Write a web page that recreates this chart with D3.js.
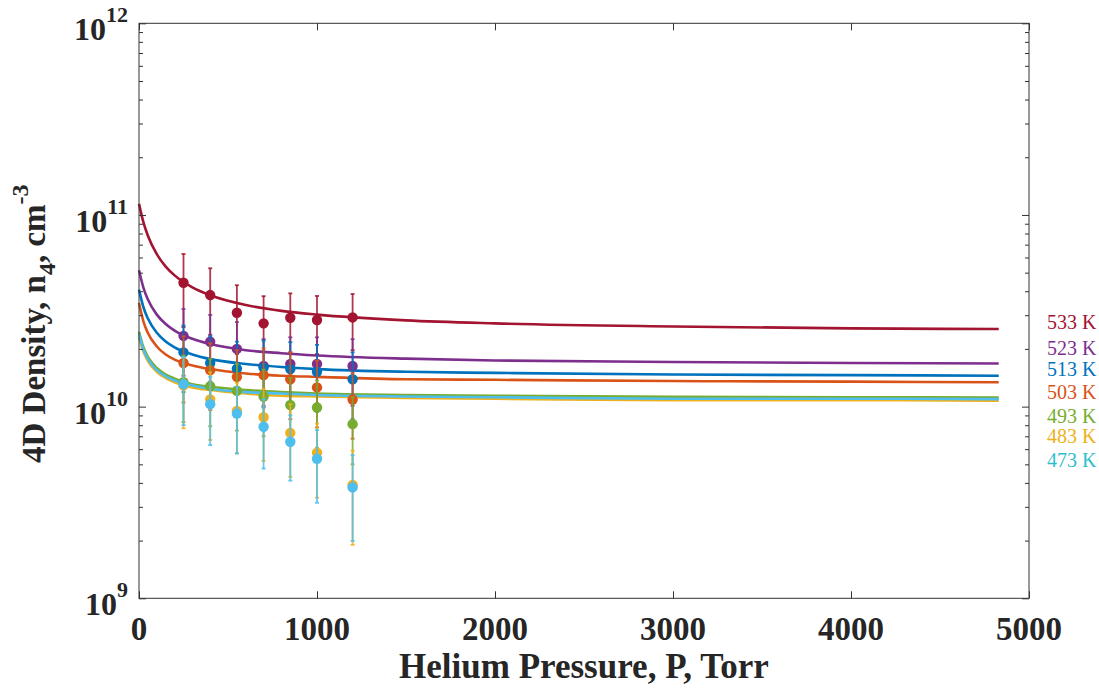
<!DOCTYPE html>
<html><head><meta charset="utf-8">
<script src="https://cdn.jsdelivr.net/npm/d3@7"></script>
<style>body{margin:0;background:#fff}</style>
</head><body>
<svg id="c" width="1099" height="690"></svg>
<script>
// ---- data (densities in units of 1e10 cm^-3) ----
const pressures = [250, 400, 550, 700, 850, 1000, 1200];
const seriesLabels = ["533 K", "523 K", "513 K", "503 K", "493 K", "483 K", "473 K"];
const seriesColors = ["#A2142F", "#7E2F8E", "#0072BD", "#D95319", "#77AC30", "#EDB120", "#4DBEEE"];
const labelColors  = ["#A2142F", "#7E2F8E", "#0072BD", "#D95319", "#77AC30", "#EDB120", "#2CBFC9"];

const pts533 = [4.43, 3.82, 3.09, 2.72, 2.91, 2.83, 2.92];
const err533 = [1.83, 1.45, 1.21, 1.05, 0.99, 0.95, 0.95];
const pts523 = [2.34, 2.18, 2.00, 1.63, 1.67, 1.67, 1.63];
const err523 = [0.89, 0.83, 0.76, 0.62, 0.63, 0.63, 0.62];
const pts513 = [1.92, 1.69, 1.58, 1.60, 1.57, 1.52, 1.39];
const err513 = [0.73, 0.64, 0.60, 0.61, 0.60, 0.58, 0.53];
const pts503 = [1.69, 1.55, 1.43, 1.46, 1.39, 1.26, 1.09];
const err503 = [0.64, 0.59, 0.54, 0.55, 0.53, 0.48, 0.41];
const pts493 = [1.34, 1.28, 1.21, 1.13, 1.02, 0.99, 0.81];
const err493 = [0.51, 0.49, 0.46, 0.43, 0.39, 0.38, 0.31];
const pts483 = [1.29, 1.09, 0.95, 0.88, 0.73, 0.575, 0.39];
const err483 = [0.52, 0.42, 0.38, 0.36, 0.30, 0.24, 0.20];
const pts473 = [1.31, 1.03, 0.92, 0.785, 0.656, 0.535, 0.379];
const err473 = [0.51, 0.40, 0.35, 0.31, 0.245, 0.22, 0.18];

const fitP   = [0, 25, 50, 100, 150, 200, 300, 400, 600, 800, 1000, 1500, 2000, 3000, 4000, 4830];
const fit533 = [11.43, 9.15, 7.79, 6.24, 5.38, 4.84, 4.19, 3.81, 3.39, 3.16, 3.02, 2.82, 2.72, 2.62, 2.56, 2.54];
const fit523 = [5.15, 4.17, 3.62, 3.02, 2.70, 2.49, 2.26, 2.12, 1.97, 1.90, 1.85, 1.78, 1.74, 1.71, 1.69, 1.68];
const fit513 = [4.08, 3.30, 2.88, 2.43, 2.19, 2.04, 1.87, 1.77, 1.67, 1.61, 1.57, 1.52, 1.50, 1.47, 1.46, 1.45];
const fit503 = [3.47, 2.78, 2.42, 2.06, 1.87, 1.76, 1.64, 1.57, 1.49, 1.45, 1.43, 1.39, 1.38, 1.36, 1.35, 1.34];
const fit493 = [2.46, 2.04, 1.82, 1.59, 1.47, 1.40, 1.31, 1.27, 1.22, 1.19, 1.17, 1.15, 1.14, 1.125, 1.12, 1.115];
const fit483 = [2.30, 1.93, 1.73, 1.52, 1.41, 1.34, 1.26, 1.22, 1.17, 1.14, 1.13, 1.11, 1.10, 1.08, 1.08, 1.075];
const fit473 = [2.38, 1.98, 1.77, 1.55, 1.44, 1.37, 1.29, 1.24, 1.19, 1.17, 1.15, 1.13, 1.12, 1.10, 1.10, 1.095];

const xTicks = [0, 1000, 2000, 3000, 4000, 5000];
const yTickExps = [9, 10, 11, 12];
const unit = 1e10;

const series = [
  {pts: pts533, err: err533, fit: fit533},
  {pts: pts523, err: err523, fit: fit523},
  {pts: pts513, err: err513, fit: fit513},
  {pts: pts503, err: err503, fit: fit503},
  {pts: pts493, err: err493, fit: fit493},
  {pts: pts483, err: err483, fit: fit483},
  {pts: pts473, err: err473, fit: fit473}
].map((s, i) => Object.assign(s, {label: seriesLabels[i], color: seriesColors[i], lcolor: labelColors[i]}));

// ---- layout ----
const L = 139, R = 1029, T = 23.3, B = 598.3;
const x = d3.scaleLinear().domain([0, 5000]).range([L, R]);
const y = d3.scaleLog().domain([1e9, 1e12]).range([B, T]);
const svg = d3.select("#c");
const axisColor = "#333333";
const font = "'Liberation Serif','Times New Roman',serif";

// fit curves
const line = d3.line().x(d => x(d[0])).y(d => y(d[1] * unit)).curve(d3.curveMonotoneX);
const gFit = svg.append("g");
series.forEach(s => {
  gFit.append("path")
    .attr("d", line(fitP.map((p, i) => [p, s.fit[i]])))
    .attr("fill", "none").attr("stroke", s.color).attr("stroke-width", 2.6);
});

// error bars and markers
const gPts = svg.append("g");
series.forEach(s => {
  const g = gPts.append("g");
  pressures.forEach((p, i) => {
    const v = s.pts[i], e = s.err[i];
    const y0 = y((v - e) * unit), y1 = y((v + e) * unit), cx = x(p);
    g.append("line").attr("x1", cx).attr("x2", cx).attr("y1", y0).attr("y2", y1)
      .attr("stroke", s.color).attr("stroke-width", 1.8).attr("stroke-opacity", 0.85);
    [y0, y1].forEach(yy => g.append("line").attr("x1", cx - 2).attr("x2", cx + 2)
      .attr("y1", yy).attr("y2", yy).attr("stroke", s.color).attr("stroke-width", 1.8).attr("stroke-opacity", 0.85));
    g.append("circle").attr("cx", cx).attr("cy", y(v * unit)).attr("r", 5.2).attr("fill", s.color);
  });
});

// box
svg.append("rect").attr("x", L).attr("y", T).attr("width", R - L).attr("height", B - T)
  .attr("fill", "none").attr("stroke", axisColor).attr("stroke-width", 1);

// x axis ticks (inward, bottom and top) via d3 axis
const xAxisB = d3.axisBottom(x).tickValues(xTicks).tickSizeInner(-7).tickSizeOuter(0).tickFormat("");
const gxb = svg.append("g").attr("transform", `translate(0,${B})`).call(xAxisB);
const xAxisT = d3.axisTop(x).tickValues(xTicks).tickSizeInner(-7).tickSizeOuter(0).tickFormat("");
const gxt = svg.append("g").attr("transform", `translate(0,${T})`).call(xAxisT);
[gxb, gxt].forEach(g => { g.select(".domain").remove(); g.selectAll("line").attr("stroke", axisColor); });

// x tick labels
svg.append("g").selectAll("text").data(xTicks).join("text")
  .attr("x", d => x(d)).attr("y", 640).attr("text-anchor", "middle")
  .attr("font-family", font).attr("font-weight", "bold").attr("font-size", 33)
  .attr("fill", "#262626").text(d => d);

// y ticks (major + minor), both sides, inward
const majors = yTickExps.map(e => Math.pow(10, e));
const minors = [];
for (let e = 9; e < 12; e++) for (let m = 2; m <= 9; m++) minors.push(m * Math.pow(10, e));
const yAxisL = d3.axisLeft(y).tickValues(majors).tickSizeInner(-7).tickSizeOuter(0).tickFormat("");
const yAxisLm = d3.axisLeft(y).tickValues(minors).tickSizeInner(-4).tickSizeOuter(0).tickFormat("");
const yAxisR = d3.axisRight(y).tickValues(majors).tickSizeInner(-7).tickSizeOuter(0).tickFormat("");
const yAxisRm = d3.axisRight(y).tickValues(minors).tickSizeInner(-4).tickSizeOuter(0).tickFormat("");
[[yAxisL, L], [yAxisLm, L], [yAxisR, R], [yAxisRm, R]].forEach(([ax, xx]) => {
  const g = svg.append("g").attr("transform", `translate(${xx},0)`).call(ax);
  g.select(".domain").remove();
  g.selectAll("line").attr("stroke", axisColor);
});

// y tick labels 10^k
const gyl = svg.append("g");
yTickExps.forEach(e => {
  const yy = y(Math.pow(10, e));
  const t = gyl.append("text").attr("x", 128).attr("y", yy + 17).attr("text-anchor", "end")
    .attr("font-family", font).attr("font-weight", "bold").attr("fill", "#262626");
  t.append("tspan").attr("font-size", 32).text("10");
  t.append("tspan").attr("font-size", 22).attr("dy", -18).text(String(e));
});

// axis titles
svg.append("text").attr("x", (L + R) / 2).attr("y", 678).attr("text-anchor", "middle")
  .attr("font-family", font).attr("font-weight", "bold").attr("font-size", 35).attr("fill", "#262626")
  .text("Helium Pressure, P, Torr");

const yt = svg.append("text").attr("transform", "translate(45,463) rotate(-90)")
  .attr("x", 0).attr("y", 0).attr("text-anchor", "start")
  .attr("font-family", font).attr("font-weight", "bold").attr("font-size", 33).attr("fill", "#262626");
yt.append("tspan").text("4D Density, n");
yt.append("tspan").attr("font-size", 24).attr("dy", 10).text("4");
yt.append("tspan").attr("dy", -10).text(", cm");
yt.append("tspan").attr("font-size", 24).attr("dy", -17).text("-3");

// right-side labels
const labelY = [329, 355, 376, 399, 423, 443, 467];
svg.append("g").selectAll("text").data(series).join("text")
  .attr("x", 1047).attr("y", (d, i) => labelY[i])
  .attr("font-family", font).attr("font-size", 20).attr("fill", d => d.lcolor)
  .text(d => d.label);
</script>
</body></html>
